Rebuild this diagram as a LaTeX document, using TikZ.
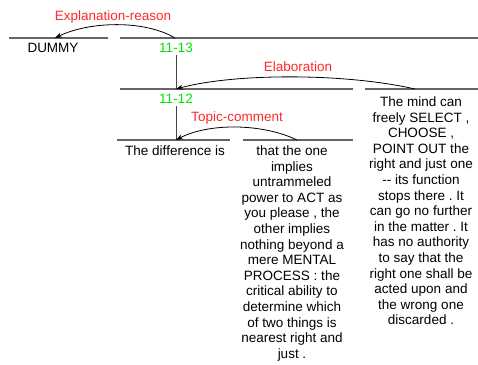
\documentclass[tikz,border=0pt]{standalone}
\usepackage{fontspec}
\setmainfont{Liberation Sans}
\usetikzlibrary{arrows.meta}
\definecolor{relred}{RGB}{255,40,40}
\definecolor{spangreen}{RGB}{0,230,0}
\definecolor{rulegray}{RGB}{100,100,100}
\frenchspacing
\tikzset{
  rule/.style={rulegray, line width=1.2pt},
  stem/.style={rulegray!70!black, line width=0.9pt},
  txt/.style={font=\fontsize{13.5}{15.6}\selectfont, inner sep=0pt, align=center},
  relname/.style={txt, text=relred, anchor=base},
  spanname/.style={txt, text=spangreen, anchor=base},
  relarc/.style={-{Stealth[length=7pt,width=5pt]}, line width=0.8pt},
}
\begin{document}
\begin{tikzpicture}[x=1pt,y=-1pt]
    \useasboundingbox (0,0) rectangle (478,364);

    % horizontal rules
    \draw[rule] (9,38) -- (108,38);
    \draw[rule] (120,38) -- (478,38);
    \draw[rule] (120,89) -- (353,89);
    \draw[rule] (365,89) -- (478,89);
    \draw[rule] (117,140) -- (230,140);
    \draw[rule] (243,140) -- (353,140);

    % span labels and texts
    \node[txt, anchor=base] (dummy) at (53,52) {DUMMY};
    \node[spanname] (s1113) at (176,52) {11-13};
    \node[spanname] (s1112) at (176,103) {11-12};
    \node[txt, anchor=north] (diff) at (175,145.5) {The difference is};
    \node[txt, anchor=north] (implies) at (292,145.5) {that the one\\ implies\\ untrammeled\\ power to ACT as\\ you please , the\\ other implies\\ nothing beyond a\\ mere MENTAL\\ PROCESS : the\\ critical ability to\\ determine which\\ of two things is\\ nearest right and\\ just .};
    \node[txt, anchor=north] (mind) at (421,96.5) {The mind can\\ freely SELECT ,\\ CHOOSE ,\\ POINT OUT the\\ right and just one\\ -{}- its function\\ stops there . It\\ can go no further\\ in the matter . It\\ has no authority\\ to say that the\\ right one shall be\\ acted upon and\\ the wrong one\\ discarded .};

    % stems
    \coordinate (top1112) at (176,89);
    \coordinate (topdiff) at (176,140);
    \draw[stem] (176,55) -- (top1112);
    \draw[stem] (176,106) -- (topdiff);

    % relations
    \coordinate (er-s) at (175,38);
    \coordinate (er-e) at (55,38);
    \draw[relarc] (er-s) .. controls (145,20) and (90,21) .. (er-e);
    \node[relname] (er) at (113,20) {Explanation-reason};

    \coordinate (el-s) at (415,89);
    \draw[relarc] (el-s) .. controls (345,73) and (235,73) .. (top1112);
    \node[relname] (el) at (298,71) {Elaboration};

    \coordinate (tc-s) at (297,140);
    \draw[relarc] (tc-s) .. controls (262,123) and (208,123) .. (topdiff);
    \node[relname] (tc) at (237,121) {Topic-comment};
\end{tikzpicture}
\end{document}
